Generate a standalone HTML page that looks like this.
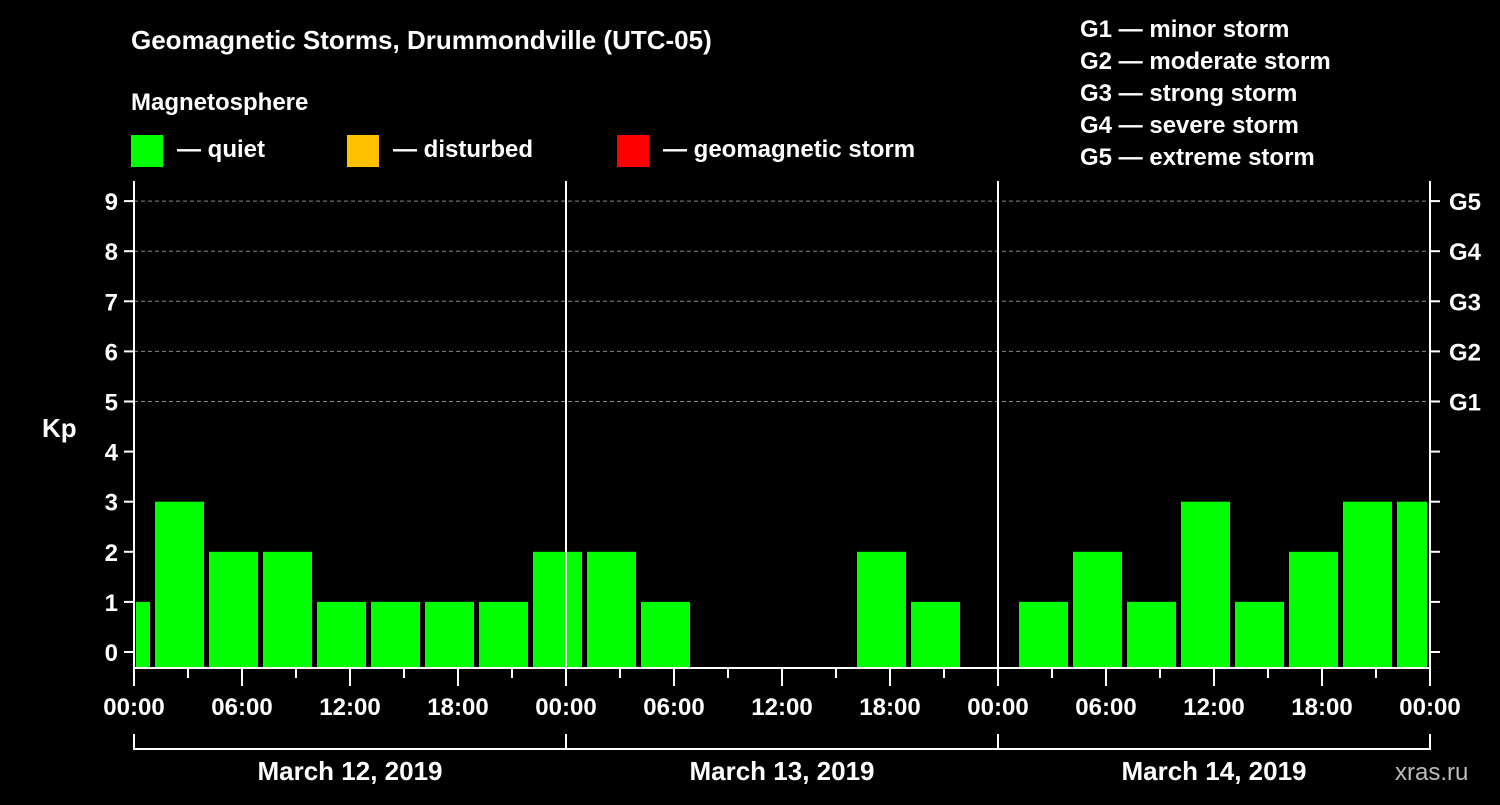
<!DOCTYPE html>
<html><head><meta charset="utf-8"><style>
body{margin:0;background:#000;width:1500px;height:800px;overflow:hidden}
svg text{font-family:"Liberation Sans",Arial,sans-serif;font-weight:bold;fill:#fff}
</style></head><body>
<svg id="chart" width="1500" height="800" xmlns="http://www.w3.org/2000/svg">
<rect width="1500" height="800" fill="#000"/>
<text x="131" y="49" font-size="26">Geomagnetic Storms, Drummondville (UTC-05)</text>
<text x="131" y="110" font-size="24">Magnetosphere</text>
<rect x="131" y="135" width="32" height="32" fill="#00ff00"/>
<text x="177" y="157" font-size="24">— quiet</text>
<rect x="347" y="135" width="32" height="32" fill="#ffc000"/>
<text x="393" y="157" font-size="24">— disturbed</text>
<rect x="617" y="135" width="32" height="32" fill="#ff0000"/>
<text x="663" y="157" font-size="24">— geomagnetic storm</text>
<g font-size="24">
<text x="1080" y="37">G1 — minor storm</text>
<text x="1080" y="69">G2 — moderate storm</text>
<text x="1080" y="101">G3 — strong storm</text>
<text x="1080" y="133">G4 — severe storm</text>
<text x="1080" y="165">G5 — extreme storm</text>
</g>
<text x="42" y="437" font-size="26">Kp</text>
<g id="plot"></g>
<text x="1395" y="780" font-size="24" fill="#bbb" style="fill:#bbb;font-weight:normal">xras.ru</text>
</svg>
<script>
const barStarts=[-2,1,4,7,10,13,16,19,22,25,28,31,34,37,40,43,46,49,52,55,58,61,64,67,70];
const kpValues=[1,3,2,2,1,1,1,1,2,2,1,0,0,0,2,1,0,1,2,1,3,1,2,3,3];
const dayLabels=["March 12, 2019","March 13, 2019","March 14, 2019"];
const hourLabels=["00:00","06:00","12:00","18:00"];
const gLabels=["G1","G2","G3","G4","G5"];
const NS="http://www.w3.org/2000/svg";
const g=document.getElementById('plot');
const X0=134,PX_H=18,HOURS=72,Y0=652,PX_K=50.1,BOT=668,TOP=181;
const xs=h=>X0+Math.max(0,Math.min(HOURS,h))*PX_H;
const ys=k=>Y0-k*PX_K;
function mk(t,a){const e=document.createElementNS(NS,t);for(const k in a)e.setAttribute(k,a[k]);g.appendChild(e);return e;}
// grid
for(let k=5;k<=9;k++){const l=mk('line',{x1:X0,x2:X0+HOURS*PX_H,y1:ys(k),y2:ys(k),stroke:'#888','stroke-dasharray':'4,3','stroke-width':1});

}
// bars
barStarts.forEach((s,i)=>{const v=kpValues[i];if(v<=0)return;
const a=xs(s),b=xs(s+3);const x1=a+(s<0?2:3),x2=b-(s+3>HOURS?3:2);
const r=mk('rect',{x:x1,y:ys(v),width:x2-x1,height:BOT-ys(v),fill:'#00ff00'});

});
// axes
const ax=[[X0,TOP,X0,BOT],[X0+HOURS*PX_H,TOP,X0+HOURS*PX_H,BOT],[X0,BOT,X0+HOURS*PX_H,BOT],[xs(24),TOP,xs(24),BOT],[xs(48),TOP,xs(48),BOT]];
ax.forEach(c=>{const l=mk('line',{x1:c[0],y1:c[1],x2:c[2],y2:c[3],stroke:'#fff','stroke-width':2});

});
// y ticks
for(let k=0;k<=9;k++){
const t=mk('line',{x1:X0-10,x2:X0,y1:ys(k),y2:ys(k),stroke:'#fff','stroke-width':2});


const t2=mk('line',{x1:X0+HOURS*PX_H,x2:X0+HOURS*PX_H+10,y1:ys(k),y2:ys(k),stroke:'#fff','stroke-width':2});


const tx=mk('text',{x:X0-16,y:ys(k)+9,'font-size':24,'text-anchor':'end'});tx.textContent=k;

}
gLabels.forEach((s,i)=>{const tx=mk('text',{x:1449,y:ys(i+5)+9,'font-size':24});tx.textContent=s;

});
// x ticks
for(let h=0;h<=HOURS;h+=3){const major=h%6===0;
const t=mk('line',{x1:xs(h),x2:xs(h),y1:BOT,y2:BOT+(major?18:10),stroke:'#fff','stroke-width':2});


if(major){const tx=mk('text',{x:xs(h),y:715,'font-size':24,'text-anchor':'middle'});tx.textContent=hourLabels[(h/6)%4];

}}
// day brackets
const bl=mk('line',{x1:X0,x2:xs(HOURS),y1:749,y2:749,stroke:'#fff','stroke-width':2});


for(let d=0;d<=3;d++){const l=mk('line',{x1:xs(d*24),x2:xs(d*24),y1:734,y2:750,stroke:'#fff','stroke-width':2});

}
dayLabels.forEach((s,d)=>{const tx=mk('text',{x:xs(d*24+12),y:780,'font-size':26,'text-anchor':'middle'});tx.textContent=s;

});
</script>
</body></html>
